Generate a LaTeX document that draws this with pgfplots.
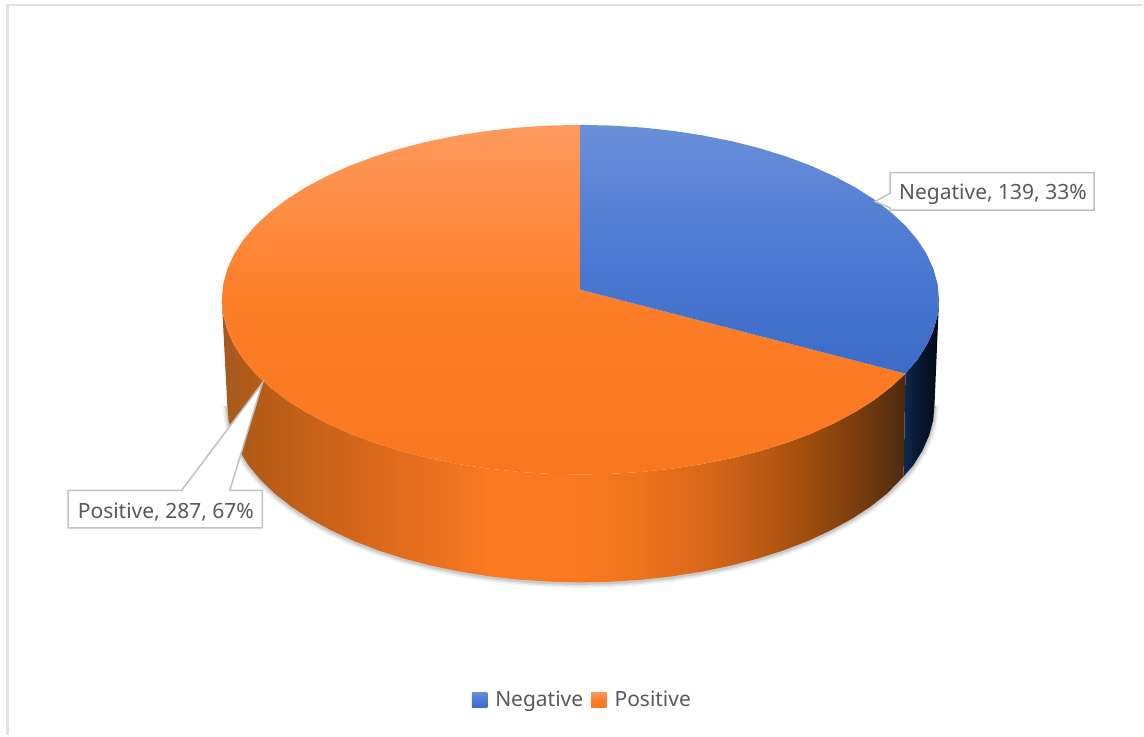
\documentclass[border=0pt]{standalone}
\usepackage{fontspec}
\setmainfont{Noto Sans}
\usepackage{pgfplots}
\usepackage{pgfplotstable}
\pgfplotsset{compat=1.18}

\definecolor{labelgrey}{HTML}{595959}
\definecolor{boxline}{HTML}{C2C2C2}
\definecolor{framegrey}{HTML}{E2E2E2}

% top faces
\definecolor{bt0}{HTML}{3C6CC8}\definecolor{bt1}{HTML}{4D7AD2}\definecolor{bt2}{HTML}{6A8FDA}
\definecolor{ot0}{HTML}{F9771F}\definecolor{ot1}{HTML}{FD7E28}\definecolor{ot2}{HTML}{FE9A5E}
\pgfdeclareverticalshading{blueTop}{100bp}{color(0bp)=(bt0); color(25bp)=(bt0); color(50bp)=(bt1); color(75bp)=(bt2); color(100bp)=(bt2)}
\pgfdeclareverticalshading{orangeTop}{100bp}{color(0bp)=(ot0); color(25bp)=(ot0); color(50bp)=(ot1); color(75bp)=(ot2); color(100bp)=(ot2)}

% rim of the orange slice
\definecolor{os0}{HTML}{A35A22}\definecolor{os1}{HTML}{B65C16}\definecolor{os2}{HTML}{D2651A}
\definecolor{os3}{HTML}{EE7320}\definecolor{os4}{HTML}{FB7A21}\definecolor{os5}{HTML}{EF741E}
\definecolor{os6}{HTML}{D26419}\definecolor{os7}{HTML}{A5500F}\definecolor{os8}{HTML}{7A3C0E}
\definecolor{os9}{HTML}{4C2A10}
\pgfdeclarehorizontalshading{orangeRim}{100bp}{color(0bp)=(os0); color(25bp)=(os0); color(27.8bp)=(os1); color(34.35bp)=(os2); color(41.66bp)=(os3); color(44.6bp)=(os4); color(50.4bp)=(os4); color(55.5bp)=(os5); color(61.4bp)=(os6); color(67.2bp)=(os7); color(71.6bp)=(os8); color(75bp)=(os9); color(100bp)=(os9)}

% rim of the blue slice
\definecolor{bs0}{HTML}{12284F}\definecolor{bs1}{HTML}{0A1C38}\definecolor{bs2}{HTML}{06142A}\definecolor{bs3}{HTML}{050B14}
\pgfdeclarehorizontalshading{blueRim}{100bp}{color(0bp)=(bs0); color(25bp)=(bs0); color(40bp)=(bs1); color(55bp)=(bs2); color(75bp)=(bs3); color(100bp)=(bs3)}

% lower outline of the disc, used for its soft shadow
\pgfplotstableread{
x y
935.5 405
934.2 420.6
930.1 435.9
923.4 451.1
914.2 465.9
902.3 480.2
888.1 494
871.5 507.1
852.7 519.4
831.8 530.8
809.1 541.4
784.5 550.9
758.5 559.2
731.1 566.3
702.6 572.2
673.1 576.9
643 580.3
612.4 582.3
581.5 583
550.6 582.3
520 580.3
489.9 576.9
460.4 572.2
431.9 566.3
404.5 559.2
378.5 550.9
353.9 541.4
331.2 530.8
310.3 519.4
291.5 507.1
274.9 494
260.7 480.2
248.8 465.9
239.6 451.1
232.9 435.9
228.8 420.6
227.5 405
}\rimoutline

\begin{document}
\begin{tikzpicture}
\begin{axis}[
  scale only axis, width=1144pt, height=736pt,
  xmin=0, xmax=1144, ymin=0, ymax=736, y dir=reverse,
  hide axis, clip=false,
  legend columns=2,
  legend style={draw=none, fill=none, at={(axis cs:583,700.5)}, anchor=center,
    font=\fontsize{21}{25}\selectfont, text=labelgrey,
    /tikz/every odd column/.style={column sep=6pt},
    /tikz/every even column/.style={column sep=6pt}},
  legend cell align=left,
]
% full canvas extent
\addplot[forget plot, draw=none] coordinates {(0,0) (1144,736)};

% outer frame
\addplot[forget plot, framegrey, line width=2.4pt] coordinates {(7.5,736) (7.5,5) (1144,5)};

% soft shadow under the disc
\addplot[forget plot, black, opacity=0.05, line width=9pt, yshift=-1pt] table {\rimoutline};
\addplot[forget plot, black, opacity=0.07, line width=6pt, yshift=-1pt] table {\rimoutline};
\addplot[forget plot, black, opacity=0.10, line width=3pt, yshift=-1pt] table {\rimoutline};

% rim, blue slice
\addplot[forget plot, draw=none, shading=blueRim] coordinates {
 (940,300) (938.6,315.3) (934.5,330.4) (927.8,345.3) (918.4,359.9) (906.4,374)
 (904.5,477) (914.2,465.9) (923.4,451.1) (930.1,435.9) (934.2,420.6) (935.5,405)
} -- cycle;

% rim, orange slice
\addplot[forget plot, draw=none, shading=orangeRim] coordinates {
 (906.4,374) (891.9,387.5) (875.1,400.4) (856,412.5) (834.9,423.7) (811.8,434.1)
 (786.9,443.4) (760.5,451.6) (732.7,458.6) (703.8,464.4) (673.9,469) (643.3,472.3)
 (612.3,474.3) (581,475) (549.7,474.3) (518.7,472.3) (488.1,469) (458.2,464.4)
 (429.3,458.6) (401.5,451.6) (375.1,443.4) (350.2,434.1) (327.1,423.7) (306,412.5)
 (286.9,400.4) (270.1,387.5) (255.6,374) (243.6,359.9) (234.2,345.3) (227.5,330.4)
 (223.4,315.3) (222,300)
 (227.5,405) (228.8,420.6) (232.9,435.9) (239.6,451.1) (248.8,465.9) (260.7,480.2)
 (274.9,494) (291.5,507.1) (310.3,519.4) (331.2,530.8) (353.9,541.4) (378.5,550.9)
 (404.5,559.2) (431.9,566.3) (460.4,572.2) (489.9,576.9) (520,580.3) (550.6,582.3)
 (581.5,583) (612.4,582.3) (643,580.3) (673.1,576.9) (702.6,572.2) (731.1,566.3)
 (758.5,559.2) (784.5,550.9) (809.1,541.4) (831.8,530.8) (852.7,519.4) (871.5,507.1)
 (888.1,494) (904.5,477)
} -- cycle;

% top face, orange slice (Positive, 287)
\addplot[forget plot, draw=none, shading=orangeTop] coordinates {
 (581,290) (906.4,374) (891.9,387.5) (875.1,400.4) (856,412.5) (834.9,423.7) (811.8,434.1)
 (786.9,443.4) (760.5,451.6) (732.7,458.6) (703.8,464.4) (673.9,469) (643.3,472.3)
 (612.3,474.3) (581,475) (549.7,474.3) (518.7,472.3) (488.1,469) (458.2,464.4)
 (429.3,458.6) (401.5,451.6) (375.1,443.4) (350.2,434.1) (327.1,423.7) (306,412.5)
 (286.9,400.4) (270.1,387.5) (255.6,374) (243.6,359.9) (234.2,345.3) (227.5,330.4)
 (223.4,315.3) (222,300) (223.4,284.7) (227.5,269.6) (234.2,254.7) (243.6,240.1)
 (255.6,226) (270.1,212.5) (286.9,199.6) (306,187.5) (327.1,176.3) (350.2,165.9)
 (375.1,156.6) (401.5,148.4) (429.3,141.4) (458.2,135.6) (488.1,131) (518.7,127.7)
 (549.7,125.7) (581,125)
} -- cycle;

% top face, blue slice (Negative, 139)
\addplot[forget plot, draw=none, shading=blueTop] coordinates {
 (581,290) (581,125) (612.3,125.7) (643.3,127.7) (673.9,131) (703.8,135.6) (732.7,141.4)
 (760.5,148.4) (786.9,156.6) (811.8,165.9) (834.9,176.3) (856,187.5) (875.1,199.6)
 (891.9,212.5) (906.4,226) (918.4,240.1) (927.8,254.7) (934.5,269.6) (938.6,284.7)
 (940,300) (938.6,315.3) (934.5,330.4) (927.8,345.3) (918.4,359.9) (906.4,374)
} -- cycle;

% data-label callouts
\addplot[forget plot, draw=boxline, fill=white, line width=1.5pt] coordinates {
 (891,172.7) (1095.3,172.7) (1095.3,210.3) (891,210.3) (891,208) (876,201.7) (891,193.3)
} -- cycle;
\addplot[forget plot, draw=boxline, fill=white, line width=1.5pt] coordinates {
 (68.3,491) (181.7,491) (262.7,383.3) (230,491) (262.7,491) (262.7,528.3) (68.3,528.3)
} -- cycle;
\node[text=labelgrey, font=\fontsize{21}{25}\selectfont] at (axis cs:994,194) {Negative, 139, 33\%};
\node[text=labelgrey, font=\fontsize{21}{25}\selectfont] at (axis cs:166,513) {Positive, 287, 67\%};

% legend
\addlegendimage{legend image code/.code={\shade[shading=blueTop, draw=none] (0pt,-7.7pt) rectangle (15.4pt,7.7pt);}}
\addlegendentry{Negative}
\addlegendimage{legend image code/.code={\shade[shading=orangeTop, draw=none] (0pt,-7.7pt) rectangle (15.4pt,7.7pt);}}
\addlegendentry{Positive}
\end{axis}
\end{tikzpicture}
\end{document}
